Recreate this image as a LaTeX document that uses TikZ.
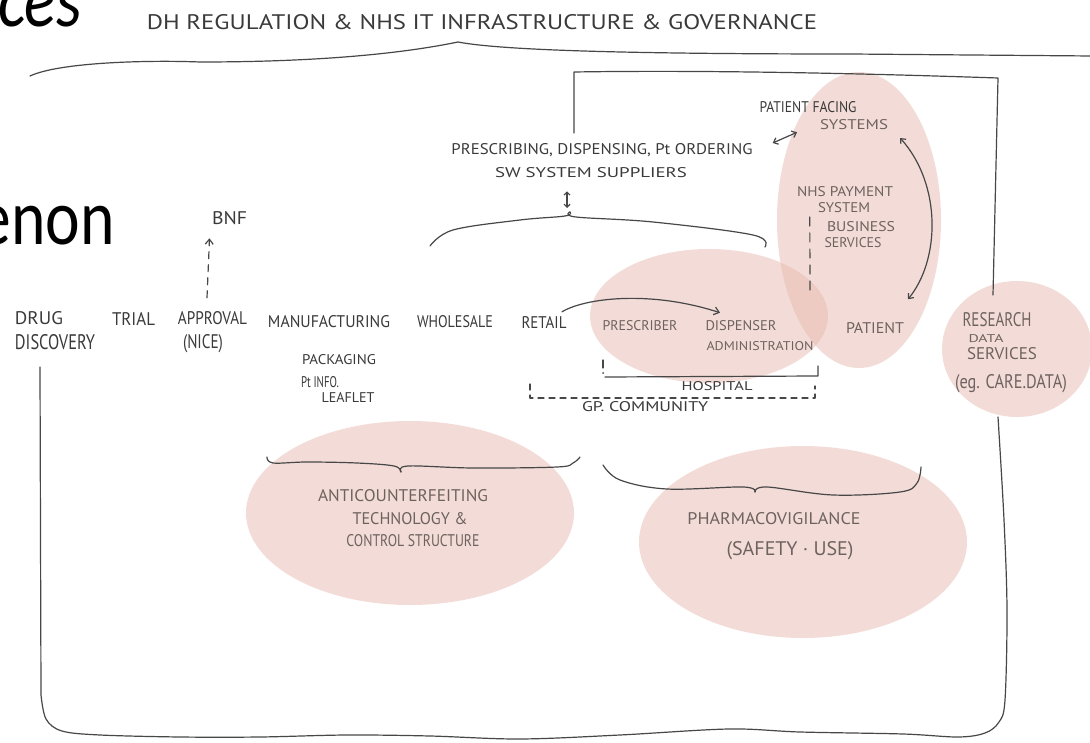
\documentclass[tikz,border=0pt]{standalone}
\usepackage{fontspec}
\usepackage{graphicx}
\setmainfont{PT Sans}
\newfontfamily\slidefont{Carlito}
\usetikzlibrary{arrows.meta}

\definecolor{pencil}{HTML}{474747}
\definecolor{ink}{HTML}{3A3A3A}
\definecolor{inkpink}{HTML}{6E6260}
\definecolor{blush}{RGB}{233,187,177}

% hand-lettered label squeezed into a box of given width and cap height
\newcommand\hw[3]{\resizebox{#1pt}{#2pt}{#3}}

\begin{document}
\begin{tikzpicture}[x=1pt,y=-1pt,
  sketch/.style={draw=pencil, line width=1.2pt, line cap=round, line join=round},
  lbl/.style={inner sep=0pt, text=ink},
  plbl/.style={inner sep=0pt, text=inkpink},
  wash/.style={fill=blush, opacity=0.5},
  barb/.style={-{Straight Barb[length=5pt,width=8pt]}},
  dbarb/.style={{Straight Barb[length=4pt,width=7pt]}-{Straight Barb[length=4pt,width=7pt]}}]
\useasboundingbox (0,0) rectangle (1090,743);
\clip (0,0) rectangle (1090,743);
\fill[white] (0,0) rectangle (1090,743);

% colour washes
\fill[wash] (709,316) ellipse [x radius=119, y radius=67];
\fill[wash] (859,220) ellipse [x radius=82, y radius=148];
\fill[wash] (1017,349) ellipse [x radius=75, y radius=68];
\fill[wash] (410,513) ellipse [x radius=164, y radius=92];
\fill[wash] (803,542) ellipse [x radius=164, y radius=96];

% slide text
\node[inner sep=0pt, anchor=base east, text=black, font=\slidefont\itshape\fontsize{79}{79}\selectfont] (slideA) at (82,27) {\scalebox{0.83}[1]{ces}};
\node[inner sep=0pt, anchor=base east, text=black, font=\slidefont\fontsize{79}{79}\selectfont] (slideB) at (115,245) {\scalebox{0.83}[1]{enon}};

% governance frame
\draw[sketch] (30,76) .. controls (60,62) and (150,60) .. (200,62)
  .. controls (300,62) and (390,56) .. (458,42)
  .. controls (500,50) and (620,54) .. (850,54) -- (1092,56);
\draw[sketch] (574,133) -- (574,72) .. controls (700,70) and (850,73) .. (998,78) -- (993,295);
\draw[sketch] plot[smooth, tension=0.55] coordinates {(998,417) (1004,520) (1007,610) (1005,700)
  (999,722) (985,733) (958,737) (903,734) (800,732) (729,729) (620,735) (520,739)
  (430,736) (347,735) (260,737) (180,737) (100,735) (62,731) (46,719) (41,695)} -- (40,367);

% labels
\node[lbl] (title) at (482,22.5) {\hw{670}{15}{DH REGULATION \& NHS IT INFRASTRUCTURE \& GOVERNANCE}};
\node[lbl] (drug1) at (39,318.5) {\hw{48}{13}{DRUG}};
\node[lbl] (drug2) at (55,342) {\hw{80}{15}{DISCOVERY}};
\node[lbl] (trial) at (133.5,318.5) {\hw{43}{13}{TRIAL}};
\node[lbl] (approval) at (212.5,318.5) {\hw{69}{13}{APPROVAL}};
\node[lbl] (nice) at (203,343.5) {\hw{40}{14}{(NICE)}};
\node[lbl] (bnf) at (229.5,218.5) {\hw{35}{13}{BNF}};
\node[lbl] (manuf) at (329,322) {\hw{122}{12}{MANUFACTURING}};
\node[lbl] (wholesale) at (455,322) {\hw{76}{12}{WHOLESALE}};
\node[lbl] (retail) at (544,322) {\hw{45}{12}{RETAIL}};
\node[lbl] (pack) at (339,360) {\hw{74}{10}{PACKAGING}};
\node[lbl] (info1) at (320,382) {\hw{38}{11}{Pt INFO.}};
\node[lbl] (info2) at (348,397) {\hw{53}{10}{LEAFLET}};
\node[plbl] (prescriber) at (640,326) {\hw{75}{10}{PRESCRIBER}};
\node[plbl] (dispenser) at (741,326) {\hw{71}{10}{DISPENSER}};
\node[plbl] (admin) at (760,346) {\hw{107}{9}{ADMINISTRATION}};
\node[plbl] (patient) at (875,328) {\hw{58}{11}{PATIENT}};
\node[lbl] (hospital) at (717,386) {\hw{71}{9}{HOSPITAL}};
\node[lbl] (gp) at (645,407) {\hw{126}{10}{GP. COMMUNITY}};
\node[lbl] (presc) at (602,150) {\hw{301}{11}{PRESCRIBING, DISPENSING, Pt ORDERING}};
\node[lbl] (supp) at (591,173) {\hw{192}{10}{SW SYSTEM SUPPLIERS}};
\node[lbl] (pf1) at (808,107.5) {\hw{97}{11}{PATIENT FACING}};
\node[plbl] (pf2) at (854,125) {\hw{68}{10}{SYSTEMS}};
\node[plbl] (nhs1) at (845,192) {\hw{96}{10}{NHS PAYMENT}};
\node[plbl] (nhs2) at (844,208) {\hw{52}{10}{SYSTEM}};
\node[plbl] (nhs3) at (861,227) {\hw{68}{10}{BUSINESS}};
\node[plbl] (nhs4) at (853,243) {\hw{57}{10}{SERVICES}};
\node[plbl] (rds1) at (997,320) {\hw{69}{14}{RESEARCH}};
\node[plbl] (rds2) at (986,339) {\hw{35}{8}{DATA}};
\node[plbl] (rds3) at (1002,354) {\hw{70}{12}{SERVICES}};
\node[plbl] (rds4) at (1011,384) {\hw{112}{14}{(eg. CARE.DATA)}};
\node[plbl] (ac1) at (403,496) {\hw{170}{12}{ANTICOUNTERFEITING}};
\node[plbl] (ac2) at (410,519) {\hw{115}{12}{TECHNOLOGY \&}};
\node[plbl] (ac3) at (413,541) {\hw{133}{12}{CONTROL STRUCTURE}};
\node[plbl] (pv1) at (774,519) {\hw{173}{12}{PHARMACOVIGILANCE}};
\node[plbl] (pv2) at (790,551) {\hw{127}{14}{(SAFETY · USE)}};

% braces
\coordinate (braceTop) at (570,212);
\draw[sketch] plot[smooth, tension=0.6] coordinates {(430,246) (453,230) (520,220) (565,216) (570,212)};
\draw[sketch] plot[smooth, tension=0.6] coordinates {(570,212) (576,217) (653,222) (753,235) (765,247)};
\draw[sketch] plot[smooth, tension=0.6] coordinates {(267,457) (273,463) (307,462) (357,463) (394,466) (401,472)};
\draw[sketch] plot[smooth, tension=0.6] coordinates {(401,472) (408,466) (473,468) (557,467) (573,463) (580,457)};
\draw[sketch] plot[smooth, tension=0.6] coordinates {(603,465) (620,480) (667,489) (743,487) (755,492)};
\draw[sketch] plot[smooth, tension=0.6] coordinates {(755,492) (767,487) (833,495) (900,492) (917,483) (921,467)};

% hospital and community brackets
\draw[sketch] (603,360) -- (603,368);
\fill[pencil] (603,373) circle (1pt);
\draw[sketch] (605,377) -- (818,376) -- (818,366);
\draw[sketch, dash pattern=on 6pt off 5pt] (530,384) -- (530,398) -- (815,398) -- (815,386);

% connectors
\draw[sketch, dash pattern=on 7pt off 6pt, barb] ([xshift=-5.5pt,yshift=14pt]approval.north) -- ([xshift=-20pt,yshift=-13pt]bnf.south);
\draw[sketch, barb] ([xshift=18pt,yshift=4pt]retail.north) .. controls (585,298) and (650,290) .. ([xshift=-21pt,yshift=8pt]dispenser.north);
\draw[sketch, {Straight Barb[length=3pt,width=6pt]}-{Straight Barb[length=3pt,width=6pt]}] ([xshift=-24pt,yshift=-13pt]supp.south) -- ([xshift=-3pt,yshift=4pt]braceTop);
\draw[sketch, dbarb] ([xshift=20pt,yshift=7pt]presc.east) -- ([xshift=-11pt,yshift=-19pt]pf1.south);
\draw[sketch, dbarb] ([xshift=33pt,yshift=23pt]patient.north) .. controls (940,260) and (942,185) .. ([xshift=12pt,yshift=-13pt]pf2.east);
\draw[sketch, dash pattern=on 9pt off 7pt] ([xshift=-17pt,yshift=10pt]nhs3.west) -- ([xshift=50pt,yshift=46.5pt]admin.north);
\end{tikzpicture}
\end{document}
